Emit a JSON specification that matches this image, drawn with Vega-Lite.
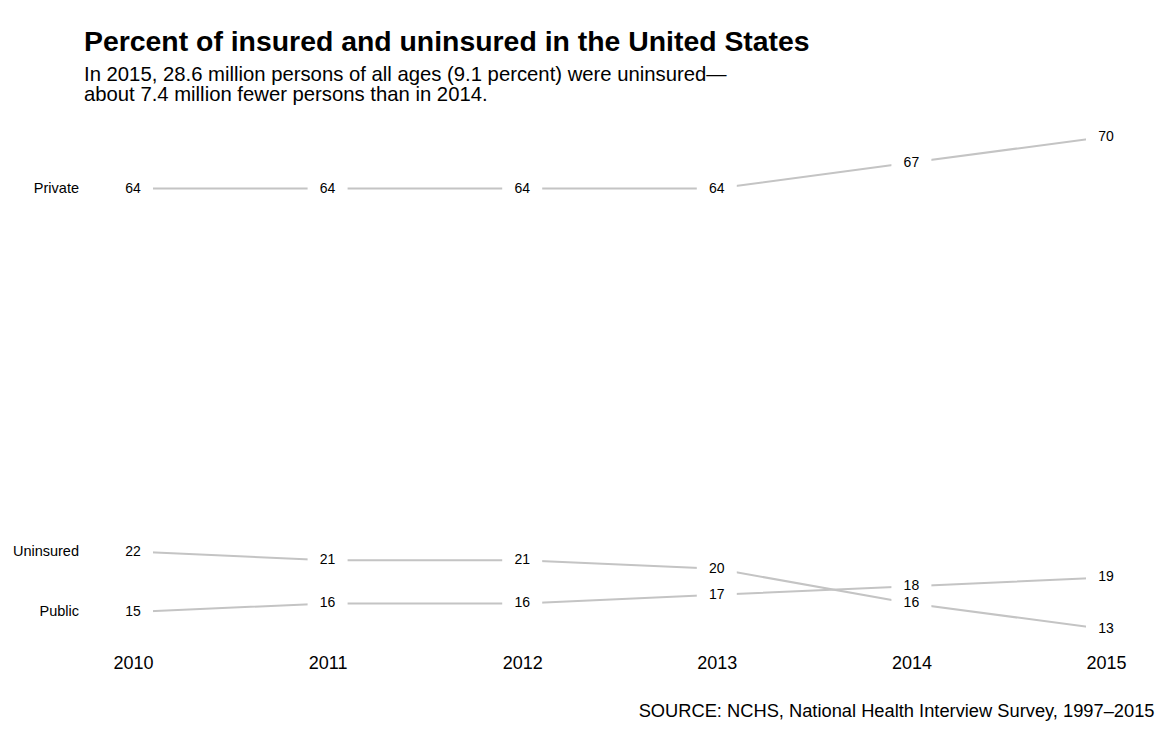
{
  "$schema": "https://vega.github.io/schema/vega-lite/v6.json",
  "width": 973,
  "height": 510,
  "autosize": {"type": "none"},
  "padding": {"left": 133, "top": 128, "right": 64, "bottom": 93},
  "background": "white",
  "config": {"font": "Liberation Sans", "view": {"stroke": null}},
  "title": {
    "text": "Percent of insured and uninsured in the United States",
    "subtitle": ["In 2015, 28.6 million persons of all ages (9.1 percent) were uninsured—", "about 7.4 million fewer persons than in 2014."],
    "anchor": "start",
    "frame": "group",
    "dx": -49,
    "fontSize": 28.4,
    "fontWeight": "bold",
    "color": "#000000",
    "subtitleFontSize": 20.3,
    "subtitleColor": "#000000",
    "subtitleLineHeight": 20,
    "subtitlePadding": 7,
    "offset": 22
  },
  "data": {
    "values": [
      {"year": 2010, "type": "Private", "value": 64},
      {"year": 2011, "type": "Private", "value": 64},
      {"year": 2012, "type": "Private", "value": 64},
      {"year": 2013, "type": "Private", "value": 64},
      {"year": 2014, "type": "Private", "value": 67},
      {"year": 2015, "type": "Private", "value": 70},
      {"year": 2010, "type": "Uninsured", "value": 22},
      {"year": 2011, "type": "Uninsured", "value": 21},
      {"year": 2012, "type": "Uninsured", "value": 21},
      {"year": 2013, "type": "Uninsured", "value": 20},
      {"year": 2014, "type": "Uninsured", "value": 16},
      {"year": 2015, "type": "Uninsured", "value": 13},
      {"year": 2010, "type": "Public", "value": 15},
      {"year": 2011, "type": "Public", "value": 16},
      {"year": 2012, "type": "Public", "value": 16},
      {"year": 2013, "type": "Public", "value": 17},
      {"year": 2014, "type": "Public", "value": 18},
      {"year": 2015, "type": "Public", "value": 19}
    ]
  },
  "encoding": {
    "x": {
      "field": "year",
      "type": "quantitative",
      "scale": {"domain": [2010, 2015], "nice": false, "zero": false},
      "axis": {
        "values": [2010, 2011, 2012, 2013, 2014, 2015],
        "format": "d",
        "domain": false,
        "ticks": false,
        "grid": false,
        "labelFontSize": 18,
        "labelColor": "#000000",
        "labelPadding": 16,
        "labelFlush": false,
        "title": "SOURCE: NCHS, National Health Interview Survey, 1997–2015",
        "titleFontSize": 18.3,
        "titleFontWeight": "normal",
        "titleColor": "#000000",
        "titleX": 1021,
        "titleY": 73,
        "titleAlign": "right",
        "titleBaseline": "middle",
        "titleAnchor": null
      }
    },
    "y": {
      "field": "value",
      "type": "quantitative",
      "scale": {"domain": [12, 71], "nice": false, "zero": false},
      "axis": null
    }
  },
  "layer": [
    {
      "mark": {"type": "line", "color": "#c4c4c4", "strokeWidth": 2},
      "encoding": {"detail": {"field": "type"}}
    },
    {
      "mark": {
        "type": "point",
        "shape": "M-1,-0.42L1,-0.42L1,0.42L-1,0.42Z",
        "size": 1600,
        "filled": true,
        "fill": "white",
        "opacity": 1,
        "strokeWidth": 0
      }
    },
    {
      "mark": {"type": "text", "fontSize": 14, "color": "#000000", "baseline": "middle", "align": "center"},
      "encoding": {"text": {"field": "value", "type": "quantitative", "format": "d"}}
    },
    {
      "transform": [{"filter": "datum.year == 2010"}],
      "mark": {"type": "text", "fontSize": 14.5, "color": "#000000", "baseline": "middle", "align": "right", "dx": -54},
      "encoding": {"text": {"field": "type"}}
    }
  ]
}
